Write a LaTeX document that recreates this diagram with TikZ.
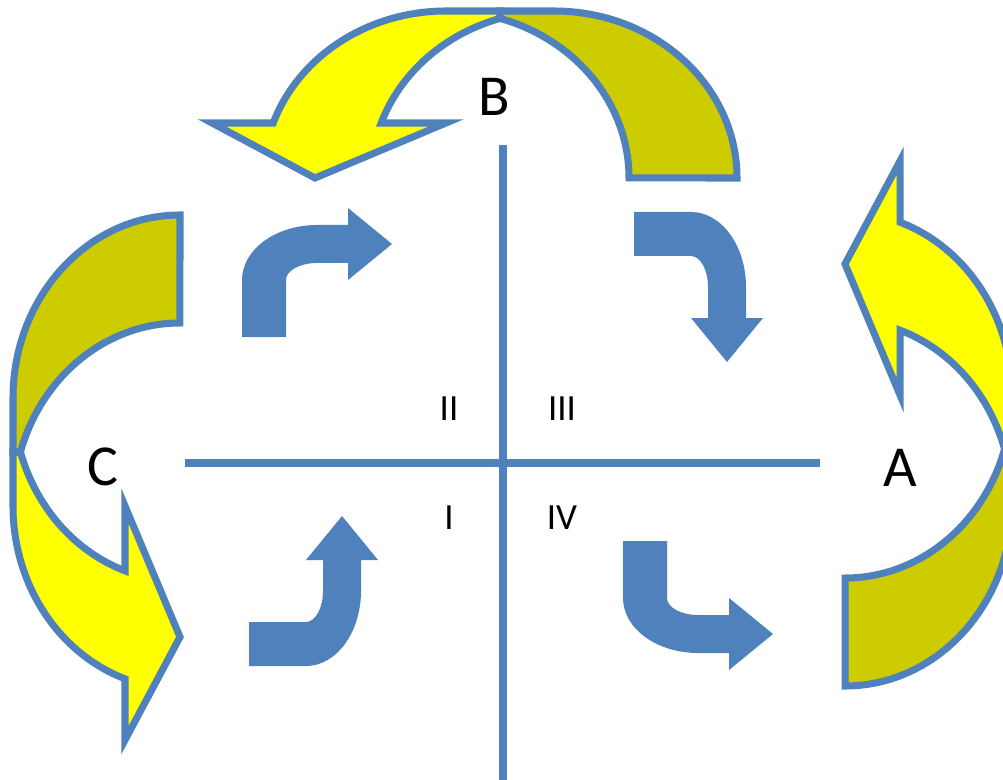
\documentclass[tikz,border=0pt]{standalone}
\usepackage{fontspec}
\setmainfont{Carlito}
\tikzset{>=stealth}
\definecolor{ppblue}{HTML}{4F81BD}
\definecolor{ppyellow}{HTML}{FFFF00}
\definecolor{ppolive}{HTML}{CCCC00}
\tikzset{
	axisline/.style={draw=ppblue,line width=4pt},
	band/.style={draw=ppblue,line width=4pt},
	bigletter/.style={inner sep=0pt,font=\fontsize{33}{40}\selectfont},
	numeral/.style={inner sep=0pt,font=\fontsize{21}{25}\selectfont},
	bentarrow/.pic={
		\fill[ppblue] (0,112) -- (0,55) arc[start angle=180,end angle=270,x radius=75,y radius=55]
			-- (106,0) -- (106,-17) -- (150,19) -- (106,55) -- (106,38) -- (75,38)
			arc[start angle=270,end angle=180,x radius=31,y radius=17] -- (44,112) -- cycle;
	},
	looparrow/.pic={
		\filldraw[band,fill=ppolive] (0,-237) arc[start angle=270,end angle=180,x radius=167,y radius=183]
			-- (-167,0) -- (-159.6,0) arc[start angle=197.16,end angle=270,x radius=167,y radius=183] -- cycle;
		\filldraw[band,fill=ppyellow] (-159.6,0) -- (-167,0) -- (-167,54)
			arc[start angle=180,end angle=109.23,x radius=167,y radius=183]
			-- (-55,288) -- (0,185) -- (-55,54) -- (-55,118.8)
			arc[start angle=109.23,end angle=162.84,x radius=167,y radius=183] -- cycle;
	},
}

\begin{document}
\begin{tikzpicture}[x=0.02cm,y=-0.02cm]
	\useasboundingbox (0,0) rectangle (1003,780);
	\clip (0,0) rectangle (1003,780);
	\path (180,452) pic {looparrow};
	\path (500,178) pic[rotate=-90] {looparrow};
	\path (845,449) pic[rotate=180] {looparrow};
	\coordinate (left) at (185,463);
	\coordinate (right) at (820,463);
	\coordinate (top) at (503,145);
	\coordinate (bottom) at (503,780);
	\draw[axisline] (left) -- (right);
	\draw[axisline] (top) -- (bottom);
	\path (242,225) pic {bentarrow};
	\path (746,212) pic[rotate=-90] {bentarrow};
	\path (361,666) pic[rotate=-90,xscale=-1] {bentarrow};
	\path (623,653) pic[yscale=-1] {bentarrow};
	\node[bigletter] (B) at (494,97) {B};
	\node[bigletter] (C) at (103,467) {C};
	\node[bigletter] (A) at (900,468) {A};
	\node[numeral] (q2) at (449,409) {II};
	\node[numeral] (q3) at (562,409) {III};
	\node[numeral] (q1) at (449,518) {I};
	\node[numeral] (q4) at (562,518) {IV};
\end{tikzpicture}
\end{document}
